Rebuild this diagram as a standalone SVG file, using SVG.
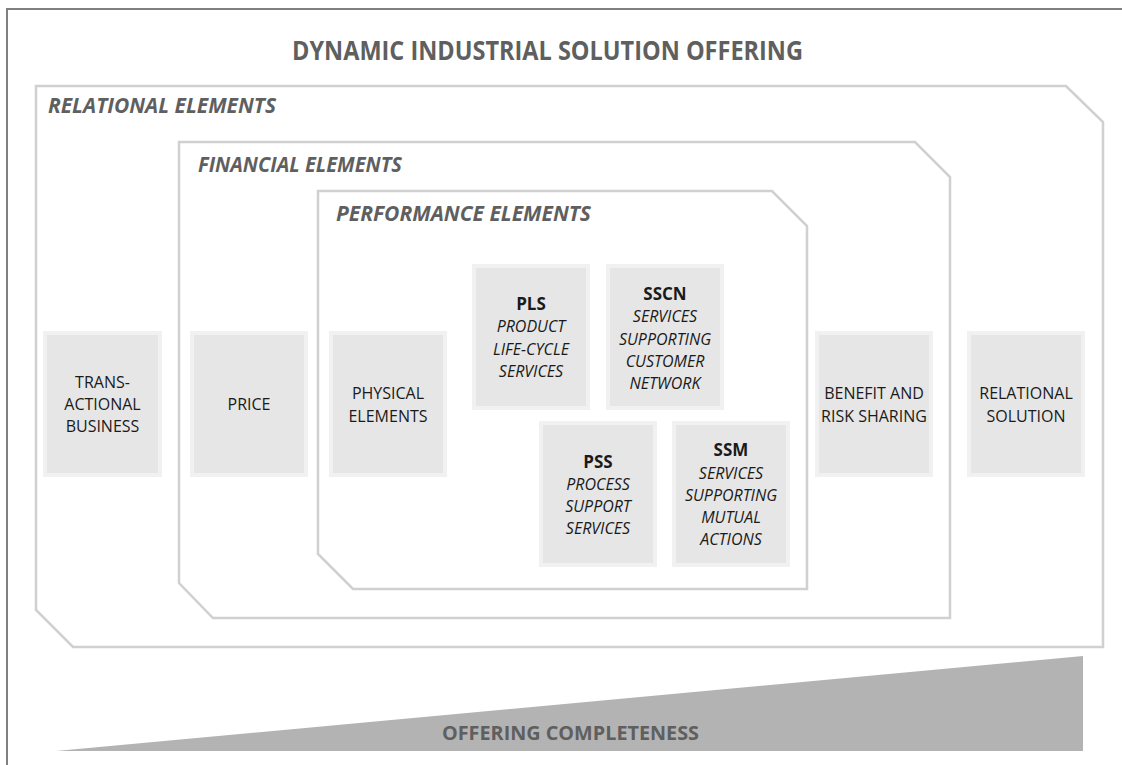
<svg xmlns="http://www.w3.org/2000/svg" width="1122" height="765" viewBox="0 0 1122 765">
<style>
.frame{fill:none;stroke:#d0d0d0;stroke-width:2.5}
.box{fill:#e6e6e6;stroke:#f1f1f1;stroke-width:4}
.title{font-family:"Open Sans","Liberation Sans",sans-serif;font-weight:bold;fill:#5f5f5f}
.sec{font-family:"Open Sans","Liberation Sans",sans-serif;font-weight:bold;font-style:italic;font-size:21px;fill:#5f5f5f}
.t{font-family:"Open Sans","Liberation Sans",sans-serif;font-size:16px;fill:#1a1a1a;text-anchor:middle}
.b{font-weight:bold;font-size:17px}
.i{font-style:italic}
</style>
<rect width="1122" height="765" fill="#ffffff"/>
<rect x="7" y="9" width="1200" height="800" fill="none" stroke="#808080" stroke-width="2"/>
<text class="title" x="292" y="60" font-size="26" textLength="511" lengthAdjust="spacingAndGlyphs">DYNAMIC INDUSTRIAL SOLUTION OFFERING</text>

<g id="relational-elements">
<path class="frame" d="M36,86 H1066 L1103,122 V647 H73 L36,610 Z"/>
<text class="sec" x="48" y="113" textLength="228" lengthAdjust="spacingAndGlyphs">RELATIONAL ELEMENTS</text>
</g>
<g id="financial-elements">
<path class="frame" d="M179,142 H915 L950,177 V618 H213 L179,583 Z"/>
<text class="sec" x="198" y="172" textLength="204" lengthAdjust="spacingAndGlyphs">FINANCIAL ELEMENTS</text>
</g>
<g id="performance-elements">
<path class="frame" d="M318,191 H772 L807,226 V589 H353 L318,554 Z"/>
<text class="sec" x="336" y="221" textLength="255" lengthAdjust="spacingAndGlyphs">PERFORMANCE ELEMENTS</text>
</g>

<g id="transactional-business">
<rect class="box" x="45" y="333" width="115" height="142"/>
<text class="t" x="102.5" y="388">TRANS-</text>
<text class="t" x="102.5" y="410">ACTIONAL</text>
<text class="t" x="102.5" y="432">BUSINESS</text>
</g>
<g id="price">
<rect class="box" x="192" y="333" width="114" height="142"/>
<text class="t" x="249" y="410">PRICE</text>
</g>
<g id="physical-elements">
<rect class="box" x="331" y="333" width="114" height="142"/>
<text class="t" x="388" y="399">PHYSICAL</text>
<text class="t" x="388" y="422">ELEMENTS</text>
</g>
<g id="pls">
<rect class="box" x="474" y="266" width="114" height="142"/>
<text class="t b" x="531" y="310">PLS</text>
<text class="t i" x="531" y="332">PRODUCT</text>
<text class="t i" x="531" y="355">LIFE-CYCLE</text>
<text class="t i" x="531" y="377">SERVICES</text>
</g>
<g id="sscn">
<rect class="box" x="608" y="266" width="114" height="142"/>
<text class="t b" x="665" y="300">SSCN</text>
<text class="t i" x="665" y="322">SERVICES</text>
<text class="t i" x="665" y="345">SUPPORTING</text>
<text class="t i" x="665" y="367">CUSTOMER</text>
<text class="t i" x="665" y="389">NETWORK</text>
</g>
<g id="pss">
<rect class="box" x="541" y="423" width="114" height="142"/>
<text class="t b" x="598" y="468">PSS</text>
<text class="t i" x="598" y="490">PROCESS</text>
<text class="t i" x="598" y="512">SUPPORT</text>
<text class="t i" x="598" y="534">SERVICES</text>
</g>
<g id="ssm">
<rect class="box" x="674" y="423" width="114" height="142"/>
<text class="t b" x="731" y="456">SSM</text>
<text class="t i" x="731" y="479">SERVICES</text>
<text class="t i" x="731" y="501">SUPPORTING</text>
<text class="t i" x="731" y="523">MUTUAL</text>
<text class="t i" x="731" y="545">ACTIONS</text>
</g>
<g id="benefit-risk-sharing">
<rect class="box" x="817" y="333" width="114" height="142"/>
<text class="t" x="874" y="399">BENEFIT AND</text>
<text class="t" x="874" y="422">RISK SHARING</text>
</g>
<g id="relational-solution">
<rect class="box" x="969" y="333" width="114" height="142"/>
<text class="t" x="1026" y="399">RELATIONAL</text>
<text class="t" x="1026" y="422">SOLUTION</text>
</g>

<g id="offering-completeness">
<polygon points="56,751 1083,656 1083,751" fill="#b3b3b3"/>
<text class="title" x="442" y="740" font-size="19" textLength="257" lengthAdjust="spacingAndGlyphs">OFFERING COMPLETENESS</text>
</g>
<g id="connectors"></g>
</svg>
